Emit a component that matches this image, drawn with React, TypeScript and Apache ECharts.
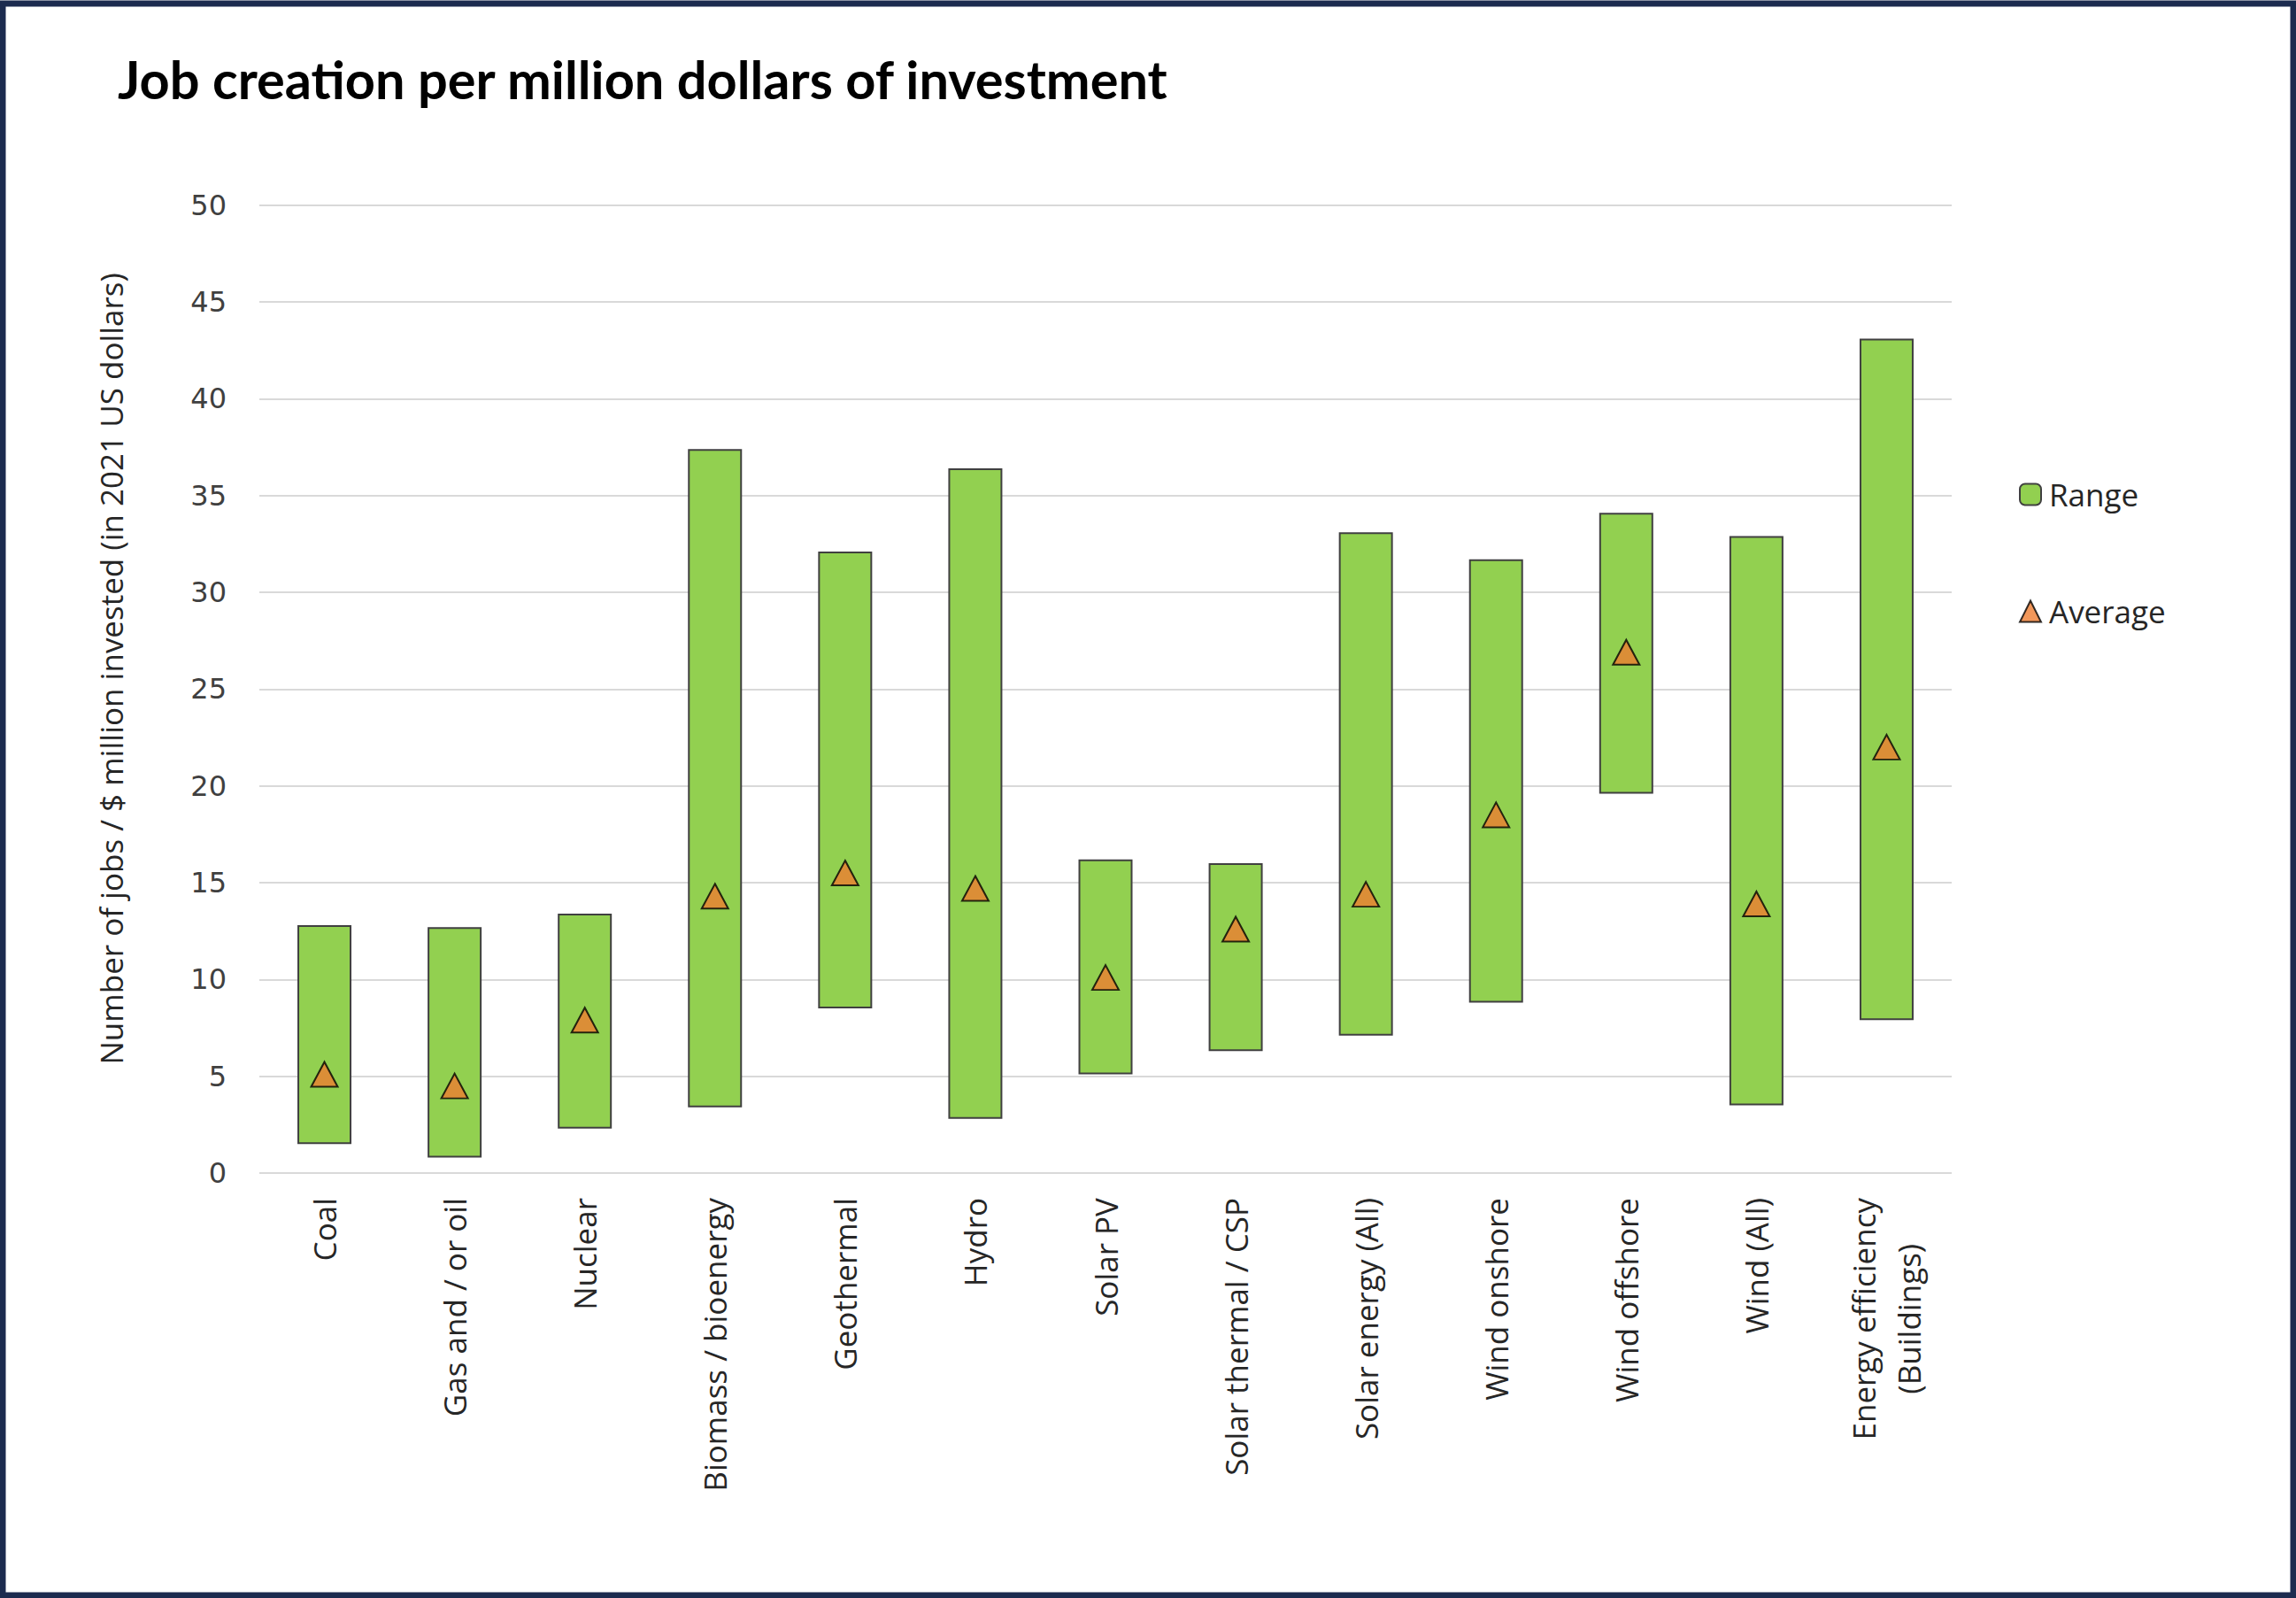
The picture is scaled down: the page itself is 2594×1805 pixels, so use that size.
import React, { useEffect, useRef } from "react";
import * as echarts from "echarts";

const categories = [
  "Coal",
  "Gas and / or oil",
  "Nuclear",
  "Biomass / bioenergy",
  "Geothermal",
  "Hydro",
  "Solar PV",
  "Solar thermal / CSP",
  "Solar energy (All)",
  "Wind onshore",
  "Wind offshore",
  "Wind (All)",
  "Energy efficiency\n(Buildings)",
];
const rangeLow = [1.5, 0.8, 2.3, 3.4, 8.5, 2.8, 5.1, 6.3, 7.1, 8.8, 19.6, 3.5, 7.9];
const rangeHigh = [12.8, 12.7, 13.4, 37.4, 32.1, 36.4, 16.2, 16.0, 33.1, 31.7, 34.1, 32.9, 43.1];
const average = [5.1, 4.5, 7.9, 14.3, 15.5, 14.7, 10.1, 12.6, 14.4, 18.5, 26.9, 13.9, 22.0];
const yTicks = { min: 0, max: 50, interval: 5 };

export default function App() {
  const ref = useRef<HTMLDivElement>(null);
  useEffect(() => {
    if (!ref.current) return;
    const chart = echarts.init(ref.current, undefined, { renderer: "svg" });
    const W = 2594;
    const H = 1805;
    chart.setOption({
      animation: false,
      backgroundColor: "#ffffff",
      title: {
        text: "Job creation per million dollars of investment",
        left: 128,
        top: 54,
        textStyle: {
          fontFamily: "Lato",
          fontWeight: "bold",
          fontSize: 59.5,
          color: "#000000",
        },
      },
      graphic: [
        {
          type: "rect",
          shape: { x: 3, y: 4, width: W - 6, height: H - 7 },
          style: { fill: "none", stroke: "#1c2b4f", lineWidth: 7 },
          silent: true,
          z: 100,
        },
      ],
      legend: {
        orient: "vertical",
        left: 2276,
        top: 536,
        itemWidth: 24,
        itemHeight: 24,
        itemGap: 97,
        data: ["Range", "Average"],
        textStyle: {
          fontFamily: "Open Sans",
          fontSize: 35,
          color: "#262626",
          padding: [0, 0, 0, 4],
        },
      },
      grid: { left: 293, right: 389, top: 231.6, bottom: 480, containLabel: false },
      xAxis: {
        type: "category",
        data: categories,
        axisLine: { show: false },
        axisTick: { show: false },
        axisLabel: {
          interval: 0,
          rotate: 90,
          margin: 28,
          fontFamily: "Open Sans",
          fontSize: 35,
          color: "#262626",
          formatter: (v: string) => {
            if (v.indexOf("\n") >= 0) {
              const parts = v.split("\n");
              return parts.map((p) => "{c|" + p + "}").join("\n");
            }
            return v;
          },
          rich: {
            c: {
              align: "center",
              fontFamily: "Open Sans",
              fontSize: 35,
              color: "#262626",
              lineHeight: 51,
            },
          },
        },
      },
      yAxis: {
        type: "value",
        min: yTicks.min,
        max: yTicks.max,
        interval: yTicks.interval,
        name: "Number of jobs / $ million invested (in 2021 US dollars)",
        nameLocation: "middle",
        nameGap: 150,
        nameTextStyle: {
          fontFamily: "Open Sans",
          fontSize: 35,
          color: "#262626",
          padding: [0, 0, 0, 46],
        },
        axisLine: { show: false },
        axisTick: { show: false },
        axisLabel: {
          margin: 37,
          fontFamily: "DejaVu Sans",
          fontSize: 32,
          color: "#404040",
        },
        splitLine: { lineStyle: { color: "#d9d9d9", width: 2 } },
      },
      series: [
        {
          name: "base",
          type: "bar",
          stack: "r",
          data: rangeLow,
          barWidth: 61,
          itemStyle: { color: "rgba(0,0,0,0)" },
          silent: true,
        },
        {
          name: "Range",
          type: "bar",
          stack: "r",
          data: rangeHigh.map((h, i) => +(h - rangeLow[i]).toFixed(2)),
          barWidth: 61,
          itemStyle: { color: "#92d050", borderColor: "#404040", borderWidth: 2 },
        },
        {
          name: "Average",
          type: "scatter",
          data: average,
          symbol: "triangle",
          symbolSize: [30, 28],
          itemStyle: { color: "#ed7d31", borderColor: "#000000", borderWidth: 2 },
          z: 5,
        },
      ],
    });
    return () => chart.dispose();
  }, []);
  return (
    <div
      ref={ref}
      style={{ position: "absolute", left: 0, top: 0, width: 2594, height: 1805 }}
    />
  );
}
